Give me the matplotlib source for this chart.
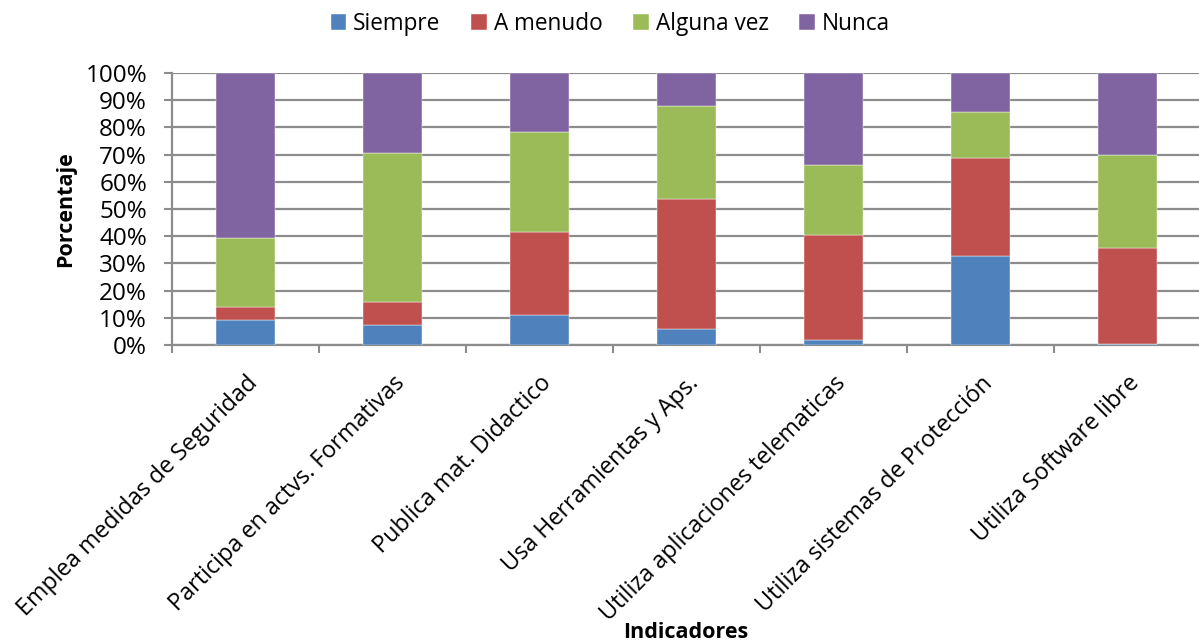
import numpy as np
import matplotlib.pyplot as plt
from matplotlib.ticker import FixedLocator, PercentFormatter

plt.rcParams['font.family'] = ['Open Sans', 'DejaVu Sans']

# Indicadores y porcentajes de cada respuesta
indicadores = [
    'Emplea medidas de Seguridad',
    'Participa en actvs. Formativas',
    'Publica mat. Didactico',
    'Usa Herramientas y Aps.',
    'Utiliza aplicaciones telematicas',
    'Utiliza sistemas de Protección',
    'Utiliza Software libre',
]
siempre = [9.3, 7.4, 11.1, 5.7, 1.8, 32.9, 0.4]
a_menudo = [4.6, 8.5, 30.3, 47.8, 38.6, 35.8, 35.2]
alguna_vez = [25.6, 54.8, 36.9, 34.3, 25.6, 17.1, 34.1]
nunca = [60.5, 29.3, 21.7, 12.2, 34.0, 14.2, 30.3]

series = [('Siempre', siempre, '#4F81BD'),
          ('A menudo', a_menudo, '#C0504D'),
          ('Alguna vez', alguna_vez, '#9BBB59'),
          ('Nunca', nunca, '#8064A2')]

fig = plt.figure(figsize=(11.99, 6.44), dpi=100)
ax = fig.add_axes([0.1435, 0.4643, 0.858, 0.4223])

x = np.arange(len(indicadores))
base = np.zeros(len(indicadores))
for nombre, valores, color in series:
    ax.bar(x, valores, width=0.4, bottom=base, color=color, label=nombre,
           edgecolor='white', linewidth=0.3, zorder=3)
    base += np.array(valores)

ax.set_ylim(0, 100)
ax.set_xlim(-0.5, len(indicadores) - 0.5)
ax.yaxis.set_major_locator(FixedLocator(np.arange(0, 101, 10)))
ax.yaxis.set_major_formatter(PercentFormatter(decimals=0))
ax.grid(axis='y', color='#8c8c8c', linewidth=1.6, zorder=0)

# marcas del eje x entre categorías
ax.set_xticks(x)
ax.set_xticklabels(indicadores, rotation=45, ha='right', rotation_mode='anchor', fontsize=16.8)
ax.set_xticks(np.arange(-0.5, len(indicadores)), minor=True)
ax.tick_params(axis='x', which='major', length=0, pad=19)
ax.tick_params(axis='x', which='minor', length=6, width=1.5, color='#8c8c8c')
ax.tick_params(axis='y', length=6, width=1.5, color='#8c8c8c', labelsize=17.5, pad=12)

for lado in ['top', 'right']:
    ax.spines[lado].set_visible(False)
for lado in ['left', 'bottom']:
    ax.spines[lado].set_color('#8c8c8c')
    ax.spines[lado].set_linewidth(1.6)

ax.set_ylabel('Porcentaje', fontsize=15.5, fontweight='bold')
ax.yaxis.set_label_coords(-0.093, 0.5)
fig.text(0.572, 0.018, 'Indicadores', fontsize=15.5, fontweight='bold', ha='center', va='center')

fig.legend(loc='center', bbox_to_anchor=(0.509, 0.963), ncol=4, frameon=False,
           fontsize=16.3, handlelength=0.7, handleheight=0.7, columnspacing=1.35,
           handletextpad=0.3)

fig.savefig('out.png', dpi=100)
